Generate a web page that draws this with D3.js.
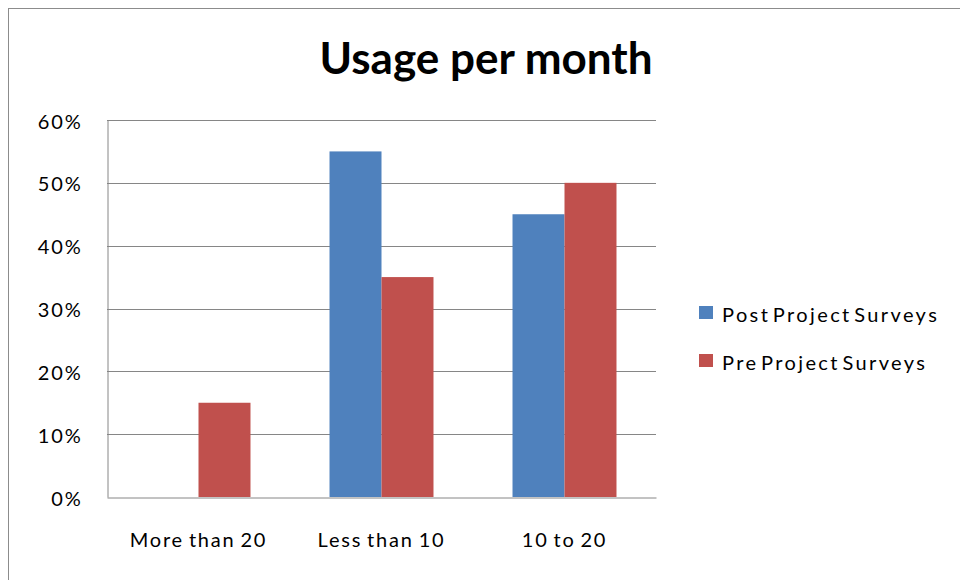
<!DOCTYPE html>
<html>
<head>
<meta charset="utf-8">
<script src="https://cdn.jsdelivr.net/npm/d3@7"></script>
<style>
  body { margin: 0; background: #fff; }
  text { font-family: Lato, "Open Sans", sans-serif; fill: #000; }
  .tick text { font-size: 20px; letter-spacing: 1.8px; }
  .legend text { font-size: 20px; letter-spacing: 2.4px; }
</style>
</head>
<body>
<div id="chart"></div>
<script>
var svgWidth = 960;
var svgHeight = 580;

var margin = { top: 120, right: 304, bottom: 83, left: 107 };
var width = svgWidth - margin.left - margin.right;
var height = svgHeight - margin.top - margin.bottom;

// data
var categories = ["More than 20", "Less than 10", "10 to 20"];
var seriesNames = ["Post Project Surveys", "Pre Project Surveys"];
var postValues = [0, 0.55, 0.45];
var preValues = [0.15, 0.35, 0.50];
var yTicks = [0, 0.1, 0.2, 0.3, 0.4, 0.5, 0.6];
var colors = ["#4F81BD", "#C0504D"];

var rows = categories.map(function (c, i) {
    return { cat: c, values: [postValues[i], preValues[i]] };
});

var svg = d3.select("#chart")
    .append("svg")
    .attr("width", svgWidth)
    .attr("height", svgHeight);

// outer chart border (runs off the right and bottom edges)
svg.append("rect")
    .attr("x", 8.5)
    .attr("y", 8.5)
    .attr("width", svgWidth)
    .attr("height", svgHeight)
    .attr("fill", "none")
    .attr("stroke", "#8c8c8c");

svg.append("text")
    .attr("x", 486)
    .attr("y", 74)
    .attr("text-anchor", "middle")
    .style("font-size", "44px")
    .style("font-weight", "bold")
    .text("Usage per month");

var chartGroup = svg.append("g")
    .attr("transform", `translate(${margin.left}, ${margin.top})`);

var x0 = d3.scaleBand()
    .domain(categories)
    .range([0, width])
    .padding(0);

var x1 = d3.scaleBand()
    .domain([0, 1])
    .range([0, x0.bandwidth()])
    .paddingInner(0)
    .paddingOuter(0.76);

var yLinearScale = d3.scaleLinear()
    .domain([0, 0.6])
    .range([height, 0]);

// gridlines
chartGroup.append("g")
    .selectAll("line")
    .data(yTicks.slice(1))
    .enter()
    .append("line")
    .attr("x1", 0)
    .attr("x2", width)
    .attr("y1", d => Math.round(yLinearScale(d)) + 0.5)
    .attr("y2", d => Math.round(yLinearScale(d)) + 0.5)
    .attr("stroke", "#868686");

// bars
var groups = chartGroup.selectAll("g.cat")
    .data(rows)
    .enter()
    .append("g")
    .attr("class", "cat")
    .attr("transform", d => `translate(${x0(d.cat)},0)`);

groups.selectAll("rect")
    .data(d => d.values)
    .enter()
    .append("rect")
    .attr("x", (d, i) => x1(i))
    .attr("width", x1.bandwidth())
    .attr("y", d => yLinearScale(d))
    .attr("height", d => height - yLinearScale(d))
    .attr("fill", (d, i) => colors[i]);

// y axis
var leftAxis = d3.axisLeft(yLinearScale)
    .tickValues(yTicks)
    .tickFormat(d3.format(".0%"))
    .tickSize(0)
    .tickPadding(25);

var yAxis = chartGroup.append("g")
    .attr("transform", "translate(0.5,0)")
    .call(leftAxis);
yAxis.select(".domain").attr("stroke", "#868686");
yAxis.selectAll(".tick text").attr("dy", "0.4em");

// x axis
var bottomAxis = d3.axisBottom(x0)
    .tickSize(0)
    .tickPadding(35);

var xAxis = chartGroup.append("g")
    .attr("transform", `translate(0,${height + 0.5})`)
    .call(bottomAxis);
xAxis.select(".domain").attr("stroke", "#868686");
xAxis.selectAll(".tick text").style("word-spacing", "-2px");

// legend
var legend = svg.append("g")
    .attr("class", "legend")
    .attr("transform", "translate(699,306)");

var items = legend.selectAll("g")
    .data(seriesNames)
    .enter()
    .append("g")
    .attr("transform", (d, i) => `translate(0,${i * 48})`);

items.append("rect")
    .attr("width", 14)
    .attr("height", 13)
    .attr("fill", (d, i) => colors[i]);

items.append("text")
    .attr("x", 23)
    .attr("y", 16)
    .style("word-spacing", "-5px")
    .text(d => d);
</script>
</body>
</html>
